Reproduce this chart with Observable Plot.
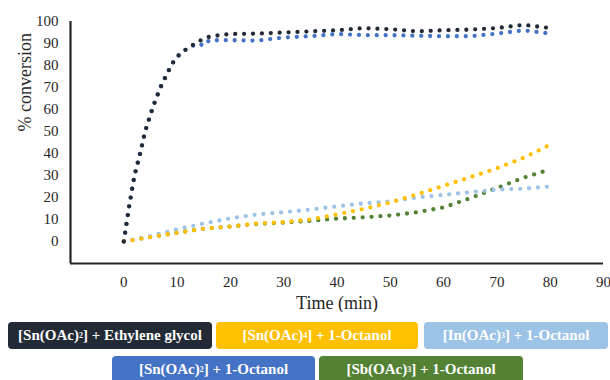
<!DOCTYPE html>
<html>
<head>
<meta charset="utf-8">
<script src="https://cdn.jsdelivr.net/npm/d3@7"></script>
<script src="https://cdn.jsdelivr.net/npm/@observablehq/plot@0.6"></script>
<style>
  html, body { margin: 0; padding: 0; background: #fff; }
  #wrap { position: relative; width: 610px; height: 380px; overflow: hidden; }
  #chart svg, #chart svg text { font-family: "Liberation Serif", serif !important; }
  .lg { position: absolute; height: 27px; border-radius: 4px; display: flex; align-items: center; justify-content: center;
        color: #fff; font-family: "Liberation Serif", serif; font-weight: bold; font-size: 15px; white-space: nowrap; }
  .lg sub { font-size: 8px; vertical-align: -1px; }
</style>
</head>
<body>
<div id="wrap"><div id="chart"></div></div>
<script>
// ---- data ----
const seriesNames = [
  "[Sn(OAc)2] + Ethylene glycol",
  "[Sn(OAc)4] + 1-Octanol",
  "[In(OAc)3] + 1-Octanol",
  "[Sn(OAc)2] + 1-Octanol",
  "[Sb(OAc)3] + 1-Octanol"
];
const seriesColors = ["#222a35", "#ffc000", "#9dc3e6", "#4472c4", "#548235"];

const timeFast = [0,1,2,3,4,5,6,7,8,9,10,12,14,15,16,18,20,25,30,35,40,45,50,55,60,65,70,75,80];
const convSnEG = [0,16,30,39,50,57.5,64.5,70.5,75.5,80.5,84,88,90.8,92.3,93,93.8,94.3,94.5,95,95.5,96,97,96.5,95.5,96,96.3,97,98.5,97];
const convSn2Oct = [0,16,30,40,50,58,65,71,76,80.5,84,88,90,89,91.4,91.5,91.5,91.3,92.7,93.3,94.3,93.8,93.8,93.5,93.3,93.3,94.5,96,94.5];

const timeSlow = [0,5,10,15,20,25,30,35,40,45,50,55,60,65,70,75,80];
const convSn4Oct = [0,2,4,5.8,6.8,8.2,8.8,10,12.3,14.8,17.7,21.4,25.3,29.2,33.3,38,44];
const convInOct = [0,2.5,5.5,8.2,10.5,12.3,13.3,14.5,16,17.3,18.2,20,21.2,22.4,23.6,24,25];
const convSbOct = [0,2,4,5.8,6.8,8,8.6,9.4,10.4,11,11.8,13.3,15.5,19.7,24.3,29,32.8];

const xTicks = [0,10,20,30,40,50,60,70,80,90];
const yTicks = [0,10,20,30,40,50,60,70,80,90,100];
const xDomain = [-10, 90];
const yDomain = [-10, 100];
const xLabel = "Time (min)";
const yLabel = "% conversion";

// ---- chart ----
const font = "'Liberation Serif', serif";
const rows = (times, vals) => times.map((t, i) => ({t, v: vals[i]}));
const dotted = (data, color) => Plot.line(data, {
  x: "t", y: "v", stroke: color, strokeWidth: 4.3,
  strokeLinecap: "round", strokeLinejoin: "round", strokeDasharray: "0 8.9"
});
const axisColor = "#262626";

const chart = Plot.plot({
  width: 610, height: 312,
  marginLeft: 70, marginRight: 7, marginTop: 21, marginBottom: 49,
  x: {domain: xDomain},
  y: {domain: yDomain},
  style: {fontFamily: font, fontSize: "15px", color: axisColor, background: "#fff"},
  marks: [
    Plot.axisY(yTicks, {tickSize: 0, tickPadding: 12, label: null, fontSize: 15, fontFamily: font}),
    Plot.axisX(xTicks, {tickSize: 0, tickPadding: 13, label: null, fontSize: 15, fontFamily: font}),
    dotted(rows(timeSlow, convSbOct), seriesColors[4]),
    dotted(rows(timeFast, convSn2Oct), seriesColors[3]),
    dotted(rows(timeSlow, convInOct), seriesColors[2]),
    dotted(rows(timeSlow, convSn4Oct), seriesColors[1]),
    dotted(rows(timeFast, convSnEG), seriesColors[0]),
    Plot.ruleX([xDomain[0]], {y1: yDomain[0], y2: yDomain[1], stroke: axisColor, strokeWidth: 2.2}),
    Plot.ruleY([yDomain[0]], {x1: xDomain[0], x2: xDomain[1], stroke: axisColor, strokeWidth: 2.2}),
    Plot.text([xLabel], {frameAnchor: "bottom", dy: 40, fontSize: 18, fontFamily: font, fill: axisColor, lineAnchor: "middle"}),
    Plot.text([yLabel], {frameAnchor: "left", dx: -45, dy: -11, rotate: -90, fontSize: 18, fontFamily: font, fill: axisColor, lineAnchor: "middle"})
  ]
});
document.getElementById("chart").appendChild(chart);

// ---- legend ----
const legendBoxes = [
  {left: 8, top: 322, width: 204},
  {left: 216, top: 322, width: 202},
  {left: 424, top: 322, width: 184},
  {left: 112, top: 356, width: 203},
  {left: 319, top: 356, width: 204}
];
const wrap = document.getElementById("wrap");
seriesNames.forEach((name, i) => {
  const d = document.createElement("div");
  d.className = "lg";
  const b = legendBoxes[i];
  d.style.left = b.left + "px"; d.style.top = b.top + "px"; d.style.width = b.width + "px";
  d.style.background = seriesColors[i];
  d.innerHTML = name.replace(/\)(\d)\]/, ")<sub>$1</sub>]");
  wrap.appendChild(d);
});
</script>
</body>
</html>
